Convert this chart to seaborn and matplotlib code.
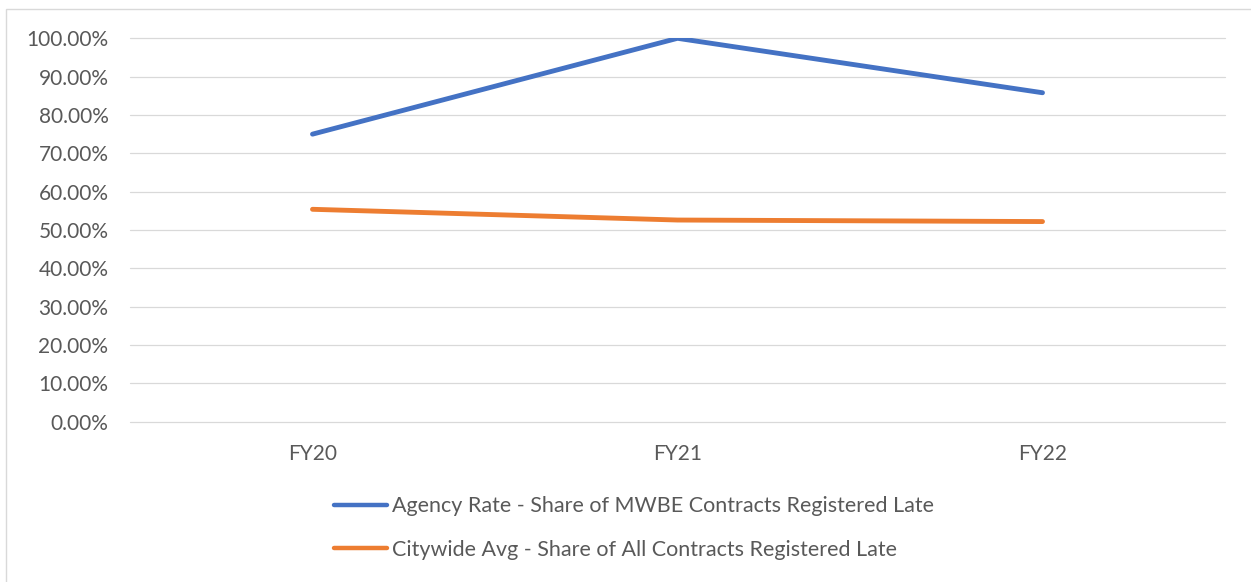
import matplotlib
matplotlib.use("Agg")
import matplotlib.pyplot as plt
from matplotlib.patches import Rectangle
from matplotlib.ticker import PercentFormatter, MultipleLocator
import seaborn as sns
import pandas as pd

# Fiscal years and share of contracts registered late
years = ["FY20", "FY21", "FY22"]
agency_rate = [0.750, 1.000, 0.858]
citywide_avg = [0.554, 0.526, 0.522]
series_names = [
    "Agency Rate - Share of MWBE Contracts Registered Late",
    "Citywide Avg - Share of All Contracts Registered Late",
]
series_colors = ["#4472C4", "#ED7D31"]

df = pd.DataFrame({
    "year": years * 2,
    "share": agency_rate + citywide_avg,
    "series": [series_names[0]] * len(years) + [series_names[1]] * len(years),
})

sns.set_theme(style="white")
plt.rcParams["font.family"] = ["Lato", "DejaVu Sans"]

W, H = 1251, 582
fig = plt.figure(figsize=(W / 100, H / 100), dpi=100)
ax = fig.add_axes([130 / W, 1 - 421.7 / H, 1095 / W, (421.7 - 38.3) / H])

sns.lineplot(
    data=df, x="year", y="share", hue="series", hue_order=series_names,
    palette=series_colors, linewidth=3.5, ax=ax, legend=False,
    solid_capstyle="round", sort=False,
)

ax.set_xlim(-0.5, 2.5)
ax.set_ylim(0, 1.0)
ax.yaxis.set_major_locator(MultipleLocator(0.1))
ax.yaxis.set_major_formatter(PercentFormatter(1.0, decimals=2))
ax.grid(axis="y", color="#D9D9D9", linewidth=0.9)
ax.grid(axis="x", visible=False)
for gl in ax.get_ygridlines():
    gl.set_clip_on(False)
ax.set_axisbelow(True)
for side in ["top", "right", "left", "bottom"]:
    ax.spines[side].set_visible(False)
ax.set_xlabel("")
ax.set_ylabel("")
ax.tick_params(axis="both", length=0, labelsize=15, colors="#595959")
ax.tick_params(axis="y", pad=15.5)
ax.tick_params(axis="x", pad=16)
for lbl in ax.get_xticklabels() + ax.get_yticklabels():
    lbl.set_color("#595959")

# Legend below the plot area
handles = [plt.Line2D([0], [0], color=c, linewidth=3.2, solid_capstyle="round") for c in series_colors]
leg = fig.legend(
    handles, series_names, loc="center", bbox_to_anchor=(634 / W, 1 - 528 / H),
    ncol=1, frameon=False, fontsize=15.5, handlelength=2.45, handletextpad=0.2,
    labelspacing=1.1, labelcolor="#595959",
)

# Chart frame
fig.patches.append(Rectangle((6 / W, -0.1), 1.2, 1 - 9 / H + 0.1, transform=fig.transFigure,
                             fill=False, edgecolor="#D9D9D9", linewidth=1.0))

fig.savefig("out.png", dpi=100, facecolor="white")
